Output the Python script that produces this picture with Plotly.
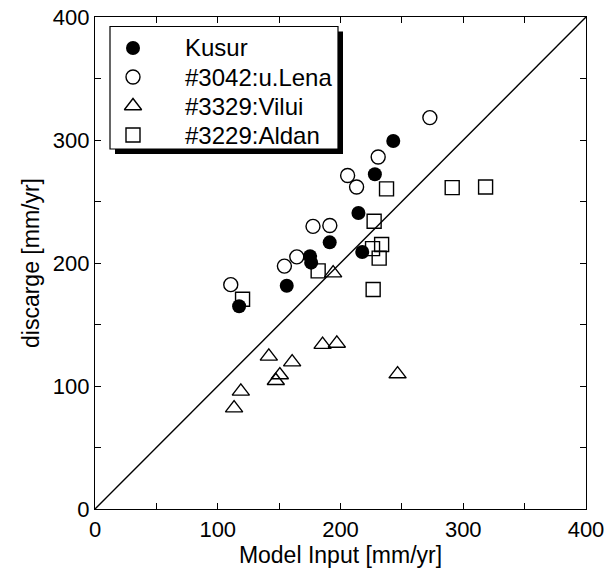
import plotly.graph_objects as go

# ---- data ----
kusur_x = [117.4, 156.2, 175.2, 176.1, 191.2, 214.6, 217.7, 228.0, 243.0]
kusur_y = [164.8, 181.5, 205.5, 200.3, 216.8, 240.7, 209.0, 272.1, 299.2]

lena_x = [110.6, 154.3, 164.4, 177.6, 191.3, 205.8, 213.1, 230.7, 272.8]
lena_y = [182.4, 197.5, 205.0, 229.8, 230.5, 271.1, 261.8, 286.2, 318.2]

vilui_x = [113.3, 118.8, 141.6, 147.3, 150.6, 160.6, 185.4, 197.0, 194.0, 246.5]
vilui_y = [82.0, 95.6, 124.1, 104.3, 108.9, 119.4, 133.6, 134.6, 191.8, 109.7]

aldan_x = [120.2, 181.8, 226.6, 231.5, 226.1, 233.5, 227.4, 237.5, 291.0, 318.2]
aldan_y = [170.5, 193.6, 178.4, 204.0, 211.7, 215.0, 233.9, 260.3, 261.3, 261.8]

series_names = ["Kusur", "#3042:u.Lena", "#3329:Vilui", "#3229:Aldan"]
tick_vals = [0, 50, 100, 150, 200, 250, 300, 350, 400]
tick_text = ["0", "", "100", "", "200", "", "300", "", "400"]
x_title = "Model Input [mm/yr]"
y_title = "discarge [mm/yr]"

# ---- layout constants ----
W, H = 608, 581
ML, MR, MT, MB = 95, 22, 17, 72
PW, PH = W - ML - MR, H - MT - MB
FONT = "Liberation Sans, Arial, Helvetica, sans-serif"

def px_x(px):
    return (px - ML) / PW * 400.0

def px_y(py):
    return (H - MB - py) / PH * 400.0

def paper_x(px):
    return (px - ML) / PW

def paper_y(py):
    return (H - MB - py) / PH

fig = go.Figure()

# 1:1 line
fig.add_trace(go.Scatter(x=[0, 400], y=[0, 400], mode="lines",
                         line=dict(color="black", width=1.4),
                         showlegend=False, hoverinfo="skip"))

styles = [
    dict(symbol="circle", size=14, color="black", line=dict(color="black", width=0)),
    dict(symbol="circle-open", size=14, color="black", line=dict(color="black", width=1.4)),
    dict(symbol="triangle-up-open", size=15, color="black", line=dict(color="black", width=1.4)),
    dict(symbol="square-open", size=14, color="black", line=dict(color="black", width=1.4)),
]
data = [(kusur_x, kusur_y), (lena_x, lena_y), (vilui_x, vilui_y), (aldan_x, aldan_y)]

for (xs, ys), st, nm in zip(data, styles, series_names):
    fig.add_trace(go.Scatter(x=xs, y=ys, mode="markers", name=nm,
                             marker=st, showlegend=False))

# ---- hand-drawn legend ----
LEG_L, LEG_T, LEG_R, LEG_B = 110, 26.5, 338, 149
SHADOW = 5
row_y = [48, 77, 106, 135]
marker_px = 133
text_px = 183

fig.add_shape(type="rect", xref="paper", yref="paper",
              x0=paper_x(LEG_L + SHADOW), x1=paper_x(LEG_R + SHADOW),
              y0=paper_y(LEG_B + SHADOW), y1=paper_y(LEG_T + SHADOW),
              fillcolor="black", line=dict(width=0), layer="below")
fig.add_shape(type="rect", xref="paper", yref="paper",
              x0=paper_x(LEG_L), x1=paper_x(LEG_R),
              y0=paper_y(LEG_B), y1=paper_y(LEG_T),
              fillcolor="white", line=dict(color="black", width=1.2), layer="below")

for st, nm, ry in zip(styles, series_names, row_y):
    fig.add_trace(go.Scatter(x=[px_x(marker_px)], y=[px_y(ry)], mode="markers",
                             marker=st, showlegend=False, hoverinfo="skip"))
    fig.add_annotation(xref="paper", yref="paper", x=paper_x(text_px), y=paper_y(ry),
                       text=nm, showarrow=False, xanchor="left", yanchor="middle",
                       font=dict(family=FONT, size=24, color="black"))

axis_common = dict(range=[0, 400], tickvals=tick_vals, ticktext=tick_text,
                   ticks="inside", ticklen=6, tickwidth=1.2, tickcolor="black",
                   showline=True, linecolor="black", linewidth=1.4, mirror="ticks",
                   showgrid=False, zeroline=False, automargin=False,
                   tickfont=dict(family=FONT, size=22, color="black"))

fig.update_xaxes(**axis_common, title=dict(text=x_title, standoff=6,
                 font=dict(family=FONT, size=23, color="black")))
fig.update_yaxes(**axis_common, title=dict(text=y_title, standoff=6,
                 font=dict(family=FONT, size=23, color="black")))

fig.update_layout(template="none", width=W, height=H,
                  margin=dict(l=ML, r=MR, t=MT, b=MB, autoexpand=False),
                  paper_bgcolor="white", plot_bgcolor="white",
                  font=dict(family=FONT, color="black"), showlegend=False)

fig.write_html("out.html", config={"displayModeBar": False},
               post_script="document.body.style.margin='0';document.body.style.padding='0';")
